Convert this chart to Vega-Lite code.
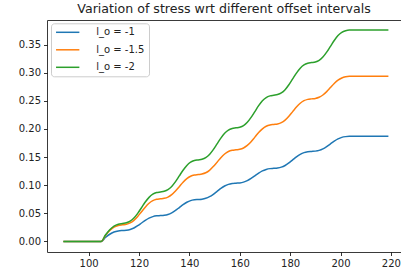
{
  "$schema": "https://vega.github.io/schema/vega-lite/v6.json",
  "width": 354,
  "height": 232,
  "autosize": {"type": "none"},
  "padding": {"left": 47, "top": 20, "right": 0, "bottom": 22},
  "background": "white",
  "title": {"text": "Variation of stress wrt different offset intervals", "fontSize": 12.6, "font": "DejaVu Sans", "fontWeight": "normal", "color": "#222222", "anchor": "middle", "offset": 6.5, "baseline": "alphabetic", "dy": 12},
  "config": {"view": {"stroke": "#3a3a3a", "strokeWidth": 1}, "font": "DejaVu Sans"},
  "data": {"values": [
    {"x": 90, "b": 0, "o": 0, "g": 0},
    {"x": 105, "b": 0, "o": 0, "g": 0},
    {"x": 106.7, "b": 0.0070, "o": 0.0106, "g": 0.0115},
    {"x": 108.4, "b": 0.0128, "o": 0.0194, "g": 0.0210},
    {"x": 110.1, "b": 0.0167, "o": 0.0254, "g": 0.0274},
    {"x": 111.8, "b": 0.0187, "o": 0.0284, "g": 0.0307},
    {"x": 113.5, "b": 0.0195, "o": 0.0296, "g": 0.0320},
    {"x": 115, "b": 0.0200, "o": 0.0305, "g": 0.0331},
    {"x": 116.5, "b": 0.0214, "o": 0.0329, "g": 0.0360},
    {"x": 118, "b": 0.0240, "o": 0.0375, "g": 0.0416},
    {"x": 119.5, "b": 0.0280, "o": 0.0444, "g": 0.0500},
    {"x": 121, "b": 0.0328, "o": 0.0527, "g": 0.0600},
    {"x": 122.5, "b": 0.0375, "o": 0.0610, "g": 0.0701},
    {"x": 124, "b": 0.0415, "o": 0.0679, "g": 0.0784},
    {"x": 125.5, "b": 0.0441, "o": 0.0725, "g": 0.0840},
    {"x": 127, "b": 0.0455, "o": 0.0749, "g": 0.0869},
    {"x": 128.5, "b": 0.0460, "o": 0.0758, "g": 0.0880},
    {"x": 130, "b": 0.0466, "o": 0.0767, "g": 0.0892},
    {"x": 131.5, "b": 0.0480, "o": 0.0789, "g": 0.0921},
    {"x": 133, "b": 0.0509, "o": 0.0832, "g": 0.0978},
    {"x": 134.5, "b": 0.0552, "o": 0.0897, "g": 0.1063},
    {"x": 136, "b": 0.0603, "o": 0.0974, "g": 0.1165},
    {"x": 137.5, "b": 0.0654, "o": 0.1052, "g": 0.1267},
    {"x": 139, "b": 0.0697, "o": 0.1116, "g": 0.1352},
    {"x": 140.5, "b": 0.0726, "o": 0.1159, "g": 0.1409},
    {"x": 142, "b": 0.0740, "o": 0.1181, "g": 0.1438},
    {"x": 143.5, "b": 0.0746, "o": 0.1190, "g": 0.1450},
    {"x": 145, "b": 0.0752, "o": 0.1199, "g": 0.1462},
    {"x": 146.5, "b": 0.0767, "o": 0.1221, "g": 0.1491},
    {"x": 148, "b": 0.0796, "o": 0.1265, "g": 0.1548},
    {"x": 149.5, "b": 0.0839, "o": 0.1331, "g": 0.1633},
    {"x": 151, "b": 0.0891, "o": 0.1410, "g": 0.1735},
    {"x": 152.5, "b": 0.0943, "o": 0.1489, "g": 0.1837},
    {"x": 154, "b": 0.0986, "o": 0.1555, "g": 0.1922},
    {"x": 155.5, "b": 0.1015, "o": 0.1599, "g": 0.1979},
    {"x": 157, "b": 0.1030, "o": 0.1621, "g": 0.2008},
    {"x": 158.5, "b": 0.1036, "o": 0.1630, "g": 0.2020},
    {"x": 160, "b": 0.1041, "o": 0.1639, "g": 0.2032},
    {"x": 161.5, "b": 0.1055, "o": 0.1662, "g": 0.2061},
    {"x": 163, "b": 0.1081, "o": 0.1707, "g": 0.2119},
    {"x": 164.5, "b": 0.1121, "o": 0.1774, "g": 0.2206},
    {"x": 166, "b": 0.1168, "o": 0.1855, "g": 0.2310},
    {"x": 167.5, "b": 0.1215, "o": 0.1936, "g": 0.2414},
    {"x": 169, "b": 0.1255, "o": 0.2003, "g": 0.2501},
    {"x": 170.5, "b": 0.1281, "o": 0.2048, "g": 0.2559},
    {"x": 172, "b": 0.1295, "o": 0.2071, "g": 0.2588},
    {"x": 173.5, "b": 0.1300, "o": 0.2080, "g": 0.2600},
    {"x": 175, "b": 0.1306, "o": 0.2089, "g": 0.2612},
    {"x": 176.5, "b": 0.1321, "o": 0.2112, "g": 0.2641},
    {"x": 178, "b": 0.1351, "o": 0.2158, "g": 0.2699},
    {"x": 179.5, "b": 0.1396, "o": 0.2226, "g": 0.2786},
    {"x": 181, "b": 0.1450, "o": 0.2308, "g": 0.2890},
    {"x": 182.5, "b": 0.1504, "o": 0.2389, "g": 0.2994},
    {"x": 184, "b": 0.1549, "o": 0.2457, "g": 0.3081},
    {"x": 185.5, "b": 0.1579, "o": 0.2503, "g": 0.3139},
    {"x": 187, "b": 0.1594, "o": 0.2526, "g": 0.3168},
    {"x": 188.5, "b": 0.1600, "o": 0.2535, "g": 0.3180},
    {"x": 190, "b": 0.1606, "o": 0.2543, "g": 0.3192},
    {"x": 191.5, "b": 0.1619, "o": 0.2564, "g": 0.3221},
    {"x": 193, "b": 0.1646, "o": 0.2604, "g": 0.3279},
    {"x": 194.5, "b": 0.1687, "o": 0.2664, "g": 0.3366},
    {"x": 196, "b": 0.1735, "o": 0.2736, "g": 0.3470},
    {"x": 197.5, "b": 0.1783, "o": 0.2807, "g": 0.3574},
    {"x": 199, "b": 0.1824, "o": 0.2867, "g": 0.3661},
    {"x": 200.5, "b": 0.1851, "o": 0.2907, "g": 0.3719},
    {"x": 202, "b": 0.1864, "o": 0.2928, "g": 0.3748},
    {"x": 203.5, "b": 0.1870, "o": 0.2936, "g": 0.3760},
    {"x": 219, "b": 0.1870, "o": 0.2936, "g": 0.3760}
  ]},
  "transform": [{"fold": ["b", "o", "g"], "as": ["series", "y"]}],
  "mark": {"type": "line", "strokeWidth": 1.5, "interpolate": "monotone", "clip": true},
  "encoding": {
    "x": {"field": "x", "type": "quantitative",
      "scale": {"domain": [83.5, 224], "nice": false, "zero": false},
      "axis": {"values": [100, 120, 140, 160, 180, 200, 220], "format": "d", "grid": false, "domain": false, "tickSize": 3.5, "tickColor": "black", "tickWidth": 0.8, "labelColor": "#222222", "labelFontSize": 10, "labelFont": "DejaVu Sans", "labelPadding": 3, "title": null}},
    "y": {"field": "y", "type": "quantitative",
      "scale": {"domain": [-0.01875, 0.39375], "nice": false, "zero": false},
      "axis": {"values": [0, 0.05, 0.1, 0.15, 0.2, 0.25, 0.3, 0.35], "format": ".2f", "grid": false, "domain": false, "tickSize": 3.5, "tickColor": "black", "tickWidth": 0.8, "labelColor": "#222222", "labelFontSize": 10, "labelFont": "DejaVu Sans", "labelPadding": 3, "title": null}},
    "color": {"field": "series", "type": "nominal",
      "scale": {"domain": ["b", "o", "g"], "range": ["#1f77b4", "#ff7f0e", "#2ca02c"]},
      "legend": {"title": null, "orient": "none", "legendX": 4, "legendY": 3.3, "symbolType": "M-4,0L4,0", "symbolSize": 34, "symbolStrokeWidth": 1.5, "symbolOffset": 7.7,
        "labelExpr": "datum.value == 'b' ? 'l_o = -1' : datum.value == 'o' ? 'l_o = -1.5' : 'l_o = -2'",
        "labelFontSize": 10, "labelFont": "DejaVu Sans", "labelColor": "#222222", "strokeColor": "#cccccc", "fillColor": "white", "cornerRadius": 3, "padding": 4, "labelOffset": 23.5, "rowPadding": 7.5}}
  }
}
